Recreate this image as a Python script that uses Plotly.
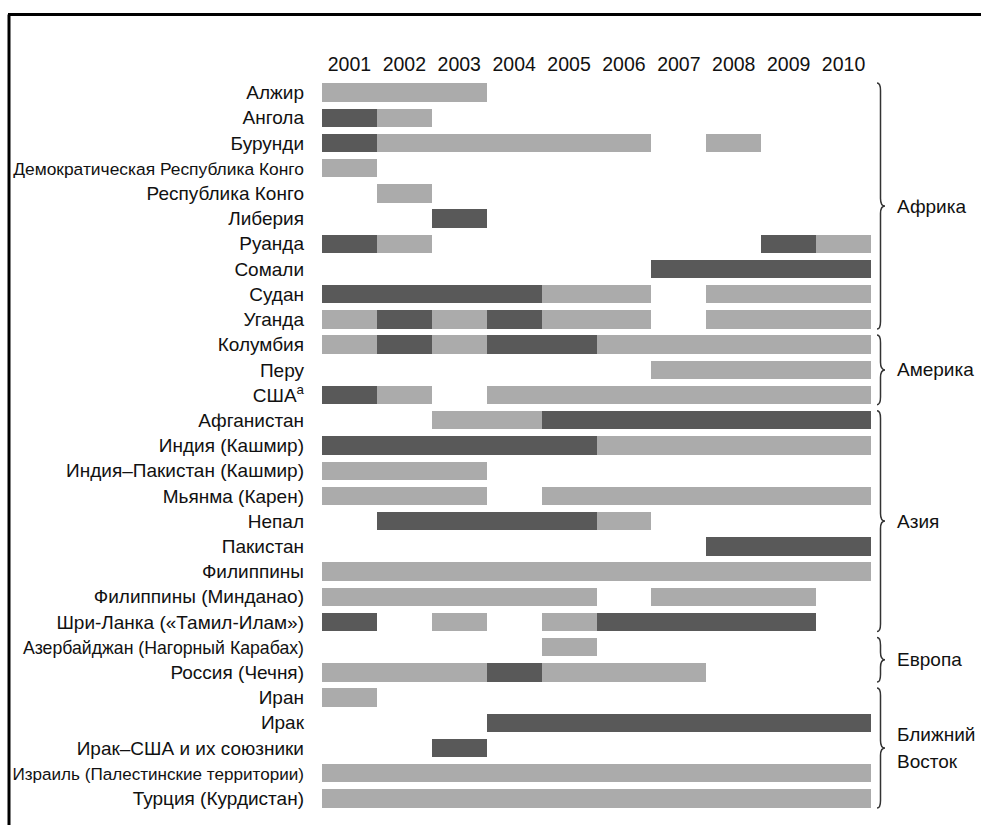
import plotly.graph_objects as go

# ---- data ----
years = [2001, 2002, 2003, 2004, 2005, 2006, 2007, 2008, 2009, 2010]
year_labels = [str(y) for y in years]

countries = [
    "Алжир", "Ангола", "Бурунди", "Демократическая Республика Конго",
    "Республика Конго", "Либерия", "Руанда", "Сомали", "Судан", "Уганда",
    "Колумбия", "Перу", "США<sup>а</sup>",
    "Афганистан", "Индия (Кашмир)", "Индия–Пакистан (Кашмир)", "Мьянма (Карен)",
    "Непал", "Пакистан", "Филиппины", "Филиппины (Минданао)",
    "Шри-Ланка («Тамил-Илам»)",
    "Азербайджан (Нагорный Карабах)", "Россия (Чечня)",
    "Иран", "Ирак", "Ирак–США и их союзники",
    "Израиль (Палестинские территории)", "Турция (Курдистан)",
]

# intensity per year: 0 = none, 1 = light (minor conflict), 2 = dark (war)
intensity = [
    [1, 1, 1, 0, 0, 0, 0, 0, 0, 0],  # Алжир
    [2, 1, 0, 0, 0, 0, 0, 0, 0, 0],  # Ангола
    [2, 1, 1, 1, 1, 1, 0, 1, 0, 0],  # Бурунди
    [1, 0, 0, 0, 0, 0, 0, 0, 0, 0],  # ДРК
    [0, 1, 0, 0, 0, 0, 0, 0, 0, 0],  # Республика Конго
    [0, 0, 2, 0, 0, 0, 0, 0, 0, 0],  # Либерия
    [2, 1, 0, 0, 0, 0, 0, 0, 2, 1],  # Руанда
    [0, 0, 0, 0, 0, 0, 2, 2, 2, 2],  # Сомали
    [2, 2, 2, 2, 1, 1, 0, 1, 1, 1],  # Судан
    [1, 2, 1, 2, 1, 1, 0, 1, 1, 1],  # Уганда
    [1, 2, 1, 2, 2, 1, 1, 1, 1, 1],  # Колумбия
    [0, 0, 0, 0, 0, 0, 1, 1, 1, 1],  # Перу
    [2, 1, 0, 1, 1, 1, 1, 1, 1, 1],  # США
    [0, 0, 1, 1, 2, 2, 2, 2, 2, 2],  # Афганистан
    [2, 2, 2, 2, 2, 1, 1, 1, 1, 1],  # Индия (Кашмир)
    [1, 1, 1, 0, 0, 0, 0, 0, 0, 0],  # Индия–Пакистан
    [1, 1, 1, 0, 1, 1, 1, 1, 1, 1],  # Мьянма
    [0, 2, 2, 2, 2, 1, 0, 0, 0, 0],  # Непал
    [0, 0, 0, 0, 0, 0, 0, 2, 2, 2],  # Пакистан
    [1, 1, 1, 1, 1, 1, 1, 1, 1, 1],  # Филиппины
    [1, 1, 1, 1, 1, 0, 1, 1, 1, 0],  # Филиппины (Минданао)
    [2, 0, 1, 0, 1, 2, 2, 2, 2, 0],  # Шри-Ланка
    [0, 0, 0, 0, 1, 0, 0, 0, 0, 0],  # Азербайджан
    [1, 1, 1, 2, 1, 1, 1, 0, 0, 0],  # Россия
    [1, 0, 0, 0, 0, 0, 0, 0, 0, 0],  # Иран
    [0, 0, 0, 2, 2, 2, 2, 2, 2, 2],  # Ирак
    [0, 0, 2, 0, 0, 0, 0, 0, 0, 0],  # Ирак–США
    [1, 1, 1, 1, 1, 1, 1, 1, 1, 1],  # Израиль
    [1, 1, 1, 1, 1, 1, 1, 1, 1, 1],  # Турция
]

# region names (each as list of text lines), first and last row of each group
regions = [["Африка"], ["Америка"], ["Азия"], ["Европа"], ["Ближний", "Восток"]]
region_first = [0, 10, 13, 22, 24]
region_last = [9, 12, 21, 23, 28]

# ---- styling ----
LIGHT = "#ababab"
DARK = "#595959"
TXT = "#111111"
FONT = "Liberation Sans, Arial, sans-serif"
W, H = 981, 825
ML, MR, MT, MB = 322, 110, 80, 14
PW = W - ML - MR
PH = H - MT - MB


def px_x(px):
    return (px - ML) / PW


def px_y(py):
    return (H - MB - py) / PH


# narrower (condensed-looking) size for the longest labels
long_sizes = {
    "Демократическая Республика Конго": 17.4,
    "Азербайджан (Нагорный Карабах)": 17.7,
    "Израиль (Палестинские территории)": 17.1,
}

# compute runs of equal intensity per country
runs = {1: ([], [], []), 2: ([], [], [])}
for row, vals in enumerate(intensity):
    i = 0
    while i < len(vals):
        v = vals[i]
        j = i
        while j + 1 < len(vals) and vals[j + 1] == v:
            j += 1
        if v in runs:
            ys, bases, lens = runs[v]
            ys.append(row)
            bases.append(years[i] - 0.5)
            lens.append(years[j] - years[i] + 1)
        i = j + 1

fig = go.Figure()
for v, color in [(1, LIGHT), (2, DARK)]:
    ys, bases, lens = runs[v]
    fig.add_trace(go.Bar(
        orientation="h", y=ys, x=lens, base=bases, width=0.73,
        marker=dict(color=color, line=dict(width=0)),
        showlegend=False, hoverinfo="skip",
    ))

ticktext = []
for c in countries:
    if c in long_sizes:
        ticktext.append(f'<span style="font-size:{long_sizes[c]}px">{c}</span>')
    else:
        ticktext.append(c)

shapes = []
# frame lines (top and left)
shapes.append(dict(type="line", xref="paper", yref="paper",
                   x0=px_x(8), x1=px_x(981), y0=px_y(14.5), y1=px_y(14.5),
                   line=dict(color="black", width=3)))
shapes.append(dict(type="line", xref="paper", yref="paper",
                   x0=px_x(9), x1=px_x(9), y0=px_y(14.5), y1=px_y(825),
                   line=dict(color="black", width=3)))

annotations = []
xa, xb, xc = px_x(877), px_x(880.5), px_x(885)
line_step = 1.1  # row units between lines of a multi-line region label
for lines, a, b in zip(regions, region_first, region_last):
    y0 = a - 0.5 + 0.12
    y1 = b + 0.5 - 0.12
    ym = (y0 + y1) / 2
    r = 0.3
    path = (f"M {xa},{y0} Q {xb},{y0} {xb},{y0 + r} "
            f"L {xb},{ym - r} Q {xb},{ym} {xc},{ym} "
            f"Q {xb},{ym} {xb},{ym + r} "
            f"L {xb},{y1 - r} Q {xb},{y1} {xa},{y1}")
    shapes.append(dict(type="path", xref="paper", yref="y", path=path,
                       line=dict(color="#333333", width=1.5)))
    n = len(lines)
    for k, txt in enumerate(lines):
        yy = ym + (k - (n - 1) / 2) * line_step
        annotations.append(dict(xref="paper", yref="y", x=px_x(895), y=yy,
                                text=txt, showarrow=False, xanchor="left",
                                yanchor="middle", align="left",
                                font=dict(family=FONT, size=19, color=TXT)))

fig.update_layout(
    width=W, height=H,
    margin=dict(l=ML, r=MR, t=MT, b=MB, pad=0),
    paper_bgcolor="white", plot_bgcolor="white",
    barmode="overlay", bargap=0,
    font=dict(family=FONT, size=19, color=TXT),
    xaxis=dict(side="top", range=[2000.5, 2010.5], tickvals=years,
               ticktext=year_labels, showgrid=False, zeroline=False,
               showline=False, ticks="", ticklabelstandoff=4,
               tickfont=dict(family=FONT, size=19.5, color=TXT),
               fixedrange=True),
    yaxis=dict(range=[28.5, -0.5], tickvals=list(range(len(countries))),
               ticktext=ticktext, showgrid=False, zeroline=False,
               showline=False, ticks="", ticklabelstandoff=17,
               tickfont=dict(family=FONT, size=19, color=TXT),
               fixedrange=True),
    shapes=shapes, annotations=annotations,
)

fig.write_html("out.html", config={"displayModeBar": False},
               post_script="document.body.style.margin='0px';"
                           "document.body.style.overflow='hidden';")
